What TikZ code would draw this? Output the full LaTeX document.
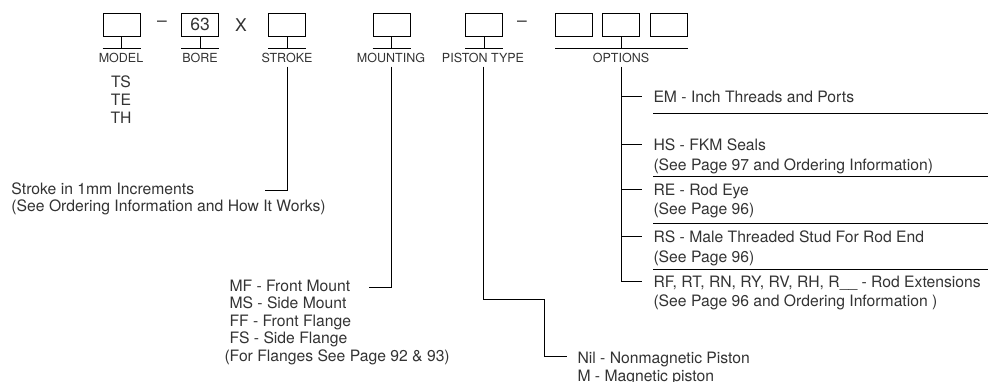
\documentclass[tikz,border=0pt]{standalone}
\usepackage{fontspec}
\setmainfont{TeX Gyre Heros}
\tikzset{
  codebox/.style={draw, minimum width=37pt, minimum height=23pt, inner sep=0pt},
  fieldname/.style={font=\fontsize{12.5}{14}\selectfont},
  choices/.style={anchor=north west, inner sep=0pt, align=left, font=\fontsize{15.7}{19.5}\selectfont},
  bigsign/.style={font=\fontsize{17.5}{19}\selectfont},
}
\begin{document}
\begin{tikzpicture}[x=1pt, y=-1pt, line width=1pt, text=black!80]
        \useasboundingbox (0,0) rectangle (998,381);
        % 1. Code boxes
        \node[codebox] (model) at (121.5,24.5) {};
        \node[bigsign] (dashA) at (162,24) {--};
        \node[codebox, bigsign] (bore) at (200,24.5) {63};
        \node[bigsign] (times) at (241,25) {X};
        \node[codebox] (stroke) at (287,24.5) {};
        \node[codebox] (mount) at (391.5,24.5) {};
        \node[codebox] (piston) at (484,24.5) {};
        \node[bigsign] (dashB) at (522,24) {--};
        \node[codebox] (optA) at (574,24.5) {};
        \node[codebox] (optB) at (621,24.5) {};
        \node[codebox] (optC) at (668.5,24.5) {};
        
        % 2. Stems and bars under the boxes
        \foreach \b in {model, bore, stroke, mount, piston, optB}
            \draw (\b.south) -- ++(0,12);
        \foreach \b in {model, bore, stroke, mount, piston}
            \draw ([yshift=-12pt]\b.south west) -- ([yshift=-12pt]\b.south east);
        \draw ([yshift=-12pt]optA.south west) -- ([yshift=-12pt]optC.south east);
        
        % 3. Field names
        \node[fieldname] (modellbl) at (121,58) {MODEL};
        \node[fieldname] (borelbl) at (200,58) {BORE};
        \node[fieldname] (strokelbl) at (287,58) {STROKE};
        \node[fieldname] (mountlbl) at (391,58) {MOUNTING};
        \node[fieldname] (pistonlbl) at (483,58) {PISTON TYPE};
        \node[fieldname] (optlbl) at (621,58) {OPTIONS};
        
        % 4. Model list
        \node[choices, anchor=north, align=center, font=\fontsize{15.7}{18}\selectfont] (models) at (121,75.3) {TS\\TE\\TH};
        
        % 5. Stroke
        \node[choices, font=\fontsize{15.7}{16.5}\selectfont] (strokes) at (11,182.3)
            {Stroke in 1mm Increments\\(See Ordering Information and How It Works)};
        \coordinate (strokeend) at (265,190);
        \draw (strokelbl.south) |- (strokeend);
        
        % 6. Mounting
        \node[choices, font=\fontsize{15.7}{17.5}\selectfont] (mounts) at (229,279.3)
            {MF - Front Mount\\MS - Side Mount\\FF - Front Flange\\FS - Side Flange\\\hspace*{-5pt}(For Flanges See Page 92 \& 93)};
        \coordinate (mountend) at (369,287);
        \draw (mountlbl.south) |- (mountend);
        
        % 7. Piston type
        \node[choices, font=\fontsize{15.7}{18}\selectfont] (pistons) at (577,351.3)
            {Nil - Nonmagnetic Piston\\M - Magnetic piston};
        \coordinate (pistonend) at (567,356);
        \draw (pistonlbl.south) |- (544,299) |- (pistonend);
        
        % 8. Options
        \node[choices] (optEM) at (653,90.3) {EM - Inch Threads and Ports};
        \node[choices] (optHS) at (653,138.3) {HS - FKM Seals\\(See Page 97 and Ordering Information)};
        \node[choices] (optRE) at (653,183.3) {RE - Rod Eye\\(See Page 96)};
        \node[choices] (optRS) at (653,230.3) {RS - Male Threaded Stud For Rod End\\(See Page 96)};
        \node[choices] (optRF) at (653,275.3) {RF, RT, RN, RY, RV, RH, R\_\_ - Rod Extensions\\(See Page 96 and Ordering Information )};
        \coordinate (optend) at (642,281);
        \draw (optlbl.south) |- (optend);
        \foreach \y in {96, 144, 189, 236}
            \draw (621,\y) -- (642,\y);
        \foreach \y in {113, 176, 223, 269}
            \draw (653,\y) -- (988,\y);
        
    \end{tikzpicture}
\end{document}
